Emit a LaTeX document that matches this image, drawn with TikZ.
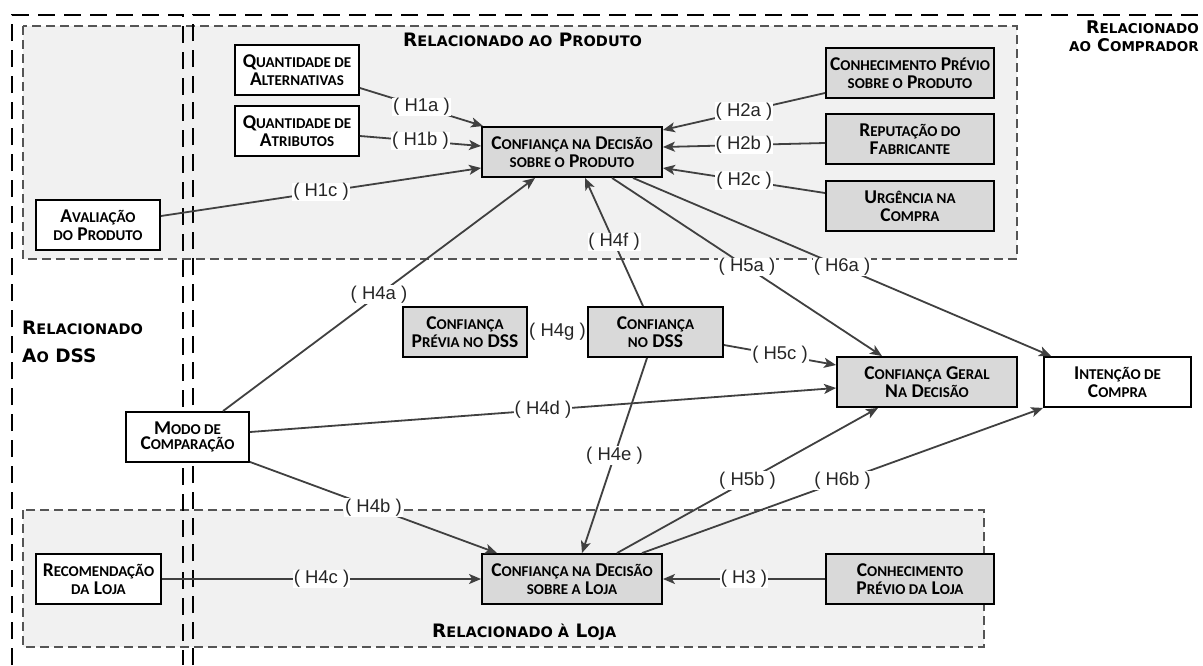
\documentclass[tikz,border=0pt]{standalone}
\usepackage{fontspec}
\setmainfont{Liberation Sans}
\newfontfamily\boxfont{Carlito}
\newfontfamily\regfont{DejaVu Sans}
\usetikzlibrary{arrows.meta,calc}
\definecolor{boxgray}{HTML}{D9D9D9}
\definecolor{regiongray}{HTML}{F1F1F1}
\definecolor{regionline}{HTML}{555555}
\definecolor{linegray}{HTML}{404040}
\newcommand\bs[1]{{\fontsize{15}{18.5}\selectfont #1}}
\newcommand\rs[1]{{\fontsize{14.5}{18}\selectfont #1}}
\newcommand\rsc[1]{{\fontsize{13.5}{18}\selectfont #1}}
\begin{document}
\begin{tikzpicture}[x=1pt,y=-1pt,
  box/.style={draw=black,line width=1.9pt,inner sep=0pt,align=center,minimum height=50pt,
    font=\boxfont\bfseries\fontsize{19.5}{18.5}\selectfont},
  wbox/.style={box,fill=white},
  gbox/.style={box,fill=boxgray},
  conn/.style={draw=linegray,line width=1.8pt,-{Stealth[length=12pt,width=10pt,inset=3pt]}},
  plainconn/.style={draw=linegray,line width=1.8pt},
  hl/.style={fill=white,inner sep=0.8pt,font=\fontsize{18.5}{18.5}\selectfont,text=black!85},
  region/.style={fill=regiongray,draw=regionline,line width=1.3pt,dash pattern=on 9pt off 5pt},
  outer/.style={draw=black,line width=2.6pt,dash pattern=on 17pt off 9pt},
  reglabel/.style={inner sep=0pt,font=\regfont\bfseries\fontsize{18.5}{18}\selectfont},
  reglabelc/.style={inner sep=0pt,font=\regfont\bfseries\fontsize{17.5}{18}\selectfont},
]
\useasboundingbox (0,0) rectangle (1203,665);
\fill[white] (0,0) rectangle (1203,665);

% regions
\draw[region] (23,26) rectangle (1017,259);
\draw[region] (23,510) rectangle (984,647);
\draw[outer] (12,665) -- (12,15) -- (183,15) -- (183,665);
\draw[outer] (193,665) -- (193,15) -- (1203,15);

% region labels
\node[reglabel,anchor=base west] (lprod) at (403,46) {R\rs{ELACIONADO AO} P\rs{RODUTO}};
\node[reglabelc,anchor=base east] (lcomp1) at (1199,33) {R\rsc{ELACIONADO}};
\node[reglabelc,anchor=base east] (lcomp2) at (1199,51) {\rsc{AO} C\rsc{OMPRADOR}};
\node[reglabel,anchor=base west] (ldss1) at (22,334) {R\rs{ELACIONADO}};
\node[reglabel,anchor=base west] (ldss2) at (22,362) {A\rs{O} DSS};
\node[reglabel,anchor=base west] (lloja) at (432,637) {R\rs{ELACIONADO À} L\rs{OJA}};

% nodes
\node[wbox,minimum width=124pt] (qa) at (297,70) {Q\bs{UANTIDADE DE}\\A\bs{LTERNATIVAS}};
\node[wbox,minimum width=124pt] (qat) at (297,131) {Q\bs{UANTIDADE DE}\\A\bs{TRIBUTOS}};
\node[wbox,minimum width=124pt] (ap) at (98,225) {A\bs{VALIAÇÃO}\\\bs{DO} P\bs{RODUTO}};
\node[gbox,minimum width=180pt] (cdp) at (572,152) {C\bs{ONFIANÇA NA} D\bs{ECISÃO}\\\bs{SOBRE O} P\bs{RODUTO}};
\node[gbox,minimum width=168pt] (cpp) at (910,73) {C\bs{ONHECIMENTO} P\bs{RÉVIO}\\\bs{SOBRE O} P\bs{RODUTO}};
\node[gbox,minimum width=168pt] (rf) at (910,139) {R\bs{EPUTAÇÃO DO}\\F\bs{ABRICANTE}};
\node[gbox,minimum width=168pt] (uc) at (910,206) {U\bs{RGÊNCIA NA}\\C\bs{OMPRA}};
\node[wbox,minimum width=123pt,font=\boxfont\bfseries\fontsize{19.5}{15}\selectfont] (mc) at (187.5,437) {M{\fontsize{15}{15}\selectfont ODO DE}\\C{\fontsize{15}{15}\selectfont OMPARAÇÃO}};
\node[gbox,minimum width=124pt] (cpd) at (465,332) {C\bs{ONFIANÇA}\\P\bs{RÉVIA NO} DSS};
\node[gbox,minimum width=135pt] (cd) at (655.5,332) {C\bs{ONFIANÇA}\\\bs{NO} DSS};
\node[gbox,minimum width=180pt] (cg) at (927,382) {C\bs{ONFIANÇA} G\bs{ERAL}\\N\bs{A} D\bs{ECISÃO}};
\node[wbox,minimum width=147pt] (ic) at (1117.5,382) {I\bs{NTENÇÃO DE}\\C\bs{OMPRA}};
\node[wbox,minimum width=125pt] (rl) at (98.5,579) {R\bs{ECOMENDAÇÃO}\\\bs{DA} L\bs{OJA}};
\node[gbox,minimum width=180pt] (cdl) at (572,579) {C\bs{ONFIANÇA NA} D\bs{ECISÃO}\\\bs{SOBRE A} L\bs{OJA}};
\node[gbox,minimum width=168pt] (cpl) at (910,579) {C\bs{ONHECIMENTO}\\P\bs{RÉVIO DA} L\bs{OJA}};

% connectors
\draw[conn] ([yshift=-18pt]qa.east) -- node[hl]{( H1a )} ([xshift=2pt]cdp.north west);
\draw[conn] ([yshift=-5pt]qat.east) -- node[hl]{( H1b )} ([yshift=6pt]cdp.west);
\draw[conn] ([yshift=9pt]ap.east) -- node[hl]{( H1c )} ([yshift=-16pt]cdp.west);
\draw[conn] ([yshift=-20pt]cpp.west) -- node[hl]{( H2a )} ([yshift=22pt]cdp.east);
\draw[conn] ([yshift=-4pt]rf.west) -- node[hl]{( H2b )} ([yshift=5pt]cdp.east);
\draw[conn] ([yshift=13pt]uc.west) -- node[hl]{( H2c )} ([yshift=-16pt]cdp.east);
\draw[conn] ([xshift=35.5pt]mc.north) -- node[hl]{( H4a )} ([xshift=-37pt]cdp.south);
\draw[conn] ([xshift=-12.5pt]cd.north) -- node[hl]{( H4f )} ([xshift=13pt]cdp.south);
\draw[plainconn] (cpd.east) -- node[hl]{( H4g )} (cd.west);
\draw[conn] ([xshift=40pt]cdp.south) -- node[hl]{( H5a )} ([xshift=-45pt]cg.north);
\draw[conn] ([xshift=61pt]cdp.south) -- node[hl]{( H6a )} ([xshift=8pt]ic.north west);
\draw[conn] ([yshift=-13pt]cd.east) -- node[hl]{( H5c )} ([yshift=17pt]cg.west);
\draw[conn] ([yshift=5pt]mc.east) -- node[hl]{( H4d )} ([yshift=-6pt]cg.west);
\draw[conn] ([xshift=-8.5pt]cd.south) -- node[hl]{( H4e )} ([xshift=10pt]cdl.north);
\draw[conn] ([yshift=1pt]mc.south east) -- node[hl]{( H4b )} ([xshift=-75pt]cdl.north);
\draw[conn] (rl.east) -- node[hl]{( H4c )} (cdl.west);
\draw[conn] (cpl.west) -- node[hl]{( H3 )} (cdl.east);
\draw[conn] ([xshift=45pt]cdl.north) -- node[hl]{( H5b )} ([xshift=-49pt]cg.south);
\draw[conn] ([xshift=70pt]cdl.north) -- node[hl]{( H6b )} (ic.south west);
\end{tikzpicture}
\end{document}
